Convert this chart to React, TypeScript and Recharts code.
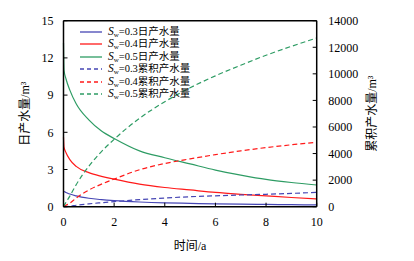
import React from 'react';
import { ComposedChart, Line, XAxis, YAxis, Legend, ReferenceLine } from 'recharts';

const times = [0, 0.02, 0.1, 0.25, 0.5, 1, 1.5, 2, 3, 4, 5, 6, 7, 8, 9, 10];
const daily03 = [1.25, 1.22, 1.15, 1.02, 0.87, 0.68, 0.57, 0.49, 0.38, 0.31, 0.27, 0.23, 0.2, 0.18, 0.16, 0.14];
const daily04 = [5.6, 4.8, 4.35, 3.8, 3.25, 2.75, 2.45, 2.22, 1.82, 1.55, 1.35, 1.15, 1.0, 0.87, 0.74, 0.62];
const daily05 = [13.2, 11.0, 10.3, 9.4, 8.3, 7.0, 6.1, 5.5, 4.5, 3.95, 3.45, 2.95, 2.55, 2.2, 1.95, 1.75];
const cum03 = [0, 0, 10, 35, 110, 215, 300, 380, 530, 650, 750, 820, 880, 935, 1000, 1080];
const cum04 = [0, 20, 110, 260, 650, 1250, 1700, 2080, 2780, 3250, 3600, 3920, 4200, 4450, 4660, 4850];
const cum05 = [0, 70, 330, 800, 1650, 3050, 4150, 5070, 6650, 7900, 8950, 9850, 10650, 11400, 12070, 12700];

const xTicks = [0, 2, 4, 6, 8, 10];
const leftTicks = [0, 3, 6, 9, 12, 15];
const rightTicks = [0, 2000, 4000, 6000, 8000, 10000, 12000, 14000];

const BLUE = '#4646b4';
const RED = '#ff1a1a';
const GREEN = '#2e9c64';

const data = times.map((t, i) => ({
  t,
  d03: daily03[i],
  d04: daily04[i],
  d05: daily05[i],
  c03: cum03[i],
  c04: cum04[i],
  c05: cum05[i],
}));

const legendItems = [
  { sw: '0.3', kind: '日产水量', color: BLUE, dashed: false },
  { sw: '0.4', kind: '日产水量', color: RED, dashed: false },
  { sw: '0.5', kind: '日产水量', color: GREEN, dashed: false },
  { sw: '0.3', kind: '累积产水量', color: BLUE, dashed: true },
  { sw: '0.4', kind: '累积产水量', color: RED, dashed: true },
  { sw: '0.5', kind: '累积产水量', color: GREEN, dashed: true },
];

const FONT = "'Liberation Serif', 'Times New Roman', 'Noto Sans CJK SC', serif";
const tickStyle = { fill: '#000', fontSize: 12, fontFamily: FONT };

const renderLegend = () => (
  <div style={{ fontFamily: FONT, fontSize: 10.5, color: '#000' }}>
    {legendItems.map((it, i) => (
      <div key={i} style={{ height: 12.5, display: 'flex', alignItems: 'center', whiteSpace: 'nowrap' }}>
        <svg width={22} height={4} style={{ marginRight: 6 }}>
          <line x1={0} y1={2} x2={22} y2={2} stroke={it.color} strokeWidth={1.3} strokeDasharray={it.dashed ? '4 3' : undefined} />
        </svg>
        <span style={{ lineHeight: '12px' }}>
          <span style={{ fontStyle: 'italic', fontSize: 11.5 }}>S</span>
          <span style={{ fontSize: 7, position: 'relative', top: 2 }}>w</span>
          <span>={it.sw}{it.kind}</span>
        </span>
      </div>
    ))}
  </div>
);

export default function App() {
  return (
    <ComposedChart width={406} height={253} data={data} margin={{ top: 12.7, right: 0, bottom: 0, left: 0 }}>
      <XAxis
        dataKey="t"
        type="number"
        domain={[0, 10]}
        ticks={xTicks}
        interval={0}
        height={54.3}
        tickSize={-4}
        tickMargin={14.5}
        axisLine={{ stroke: '#000', strokeWidth: 1.5 }}
        tickLine={{ stroke: '#000' }}
        tick={tickStyle}
        label={{ value: '时间/a', position: 'insideBottom', offset: 11, style: { fill: '#000', fontSize: 12, fontFamily: FONT } }}
      />
      <YAxis
        yAxisId="left"
        domain={[0, 15]}
        ticks={leftTicks}
        interval={0}
        width={55.5}
        tickSize={-4}
        tickMargin={14}
        axisLine={{ stroke: '#000', strokeWidth: 1.5 }}
        tickLine={{ stroke: '#000' }}
        tick={tickStyle}
        label={{ value: '日产水量/m³', angle: -90, position: 'insideLeft', offset: 17, style: { textAnchor: 'middle', fill: '#000', fontSize: 12, fontFamily: FONT } }}
      />
      <YAxis
        yAxisId="right"
        orientation="right"
        domain={[0, 14000]}
        ticks={rightTicks}
        interval={0}
        width={97.3}
        tickSize={-4}
        tickMargin={15.5}
        axisLine={{ stroke: '#000', strokeWidth: 1.5 }}
        tickLine={{ stroke: '#000' }}
        tick={tickStyle}
        label={{ value: '累积产水量/m³', angle: -90, position: 'insideRight', offset: 42.3, style: { textAnchor: 'middle', fill: '#000', fontSize: 12, fontFamily: FONT } }}
      />
      <ReferenceLine yAxisId="left" y={15} stroke="#000" strokeWidth={1.5} />
      <Legend
        layout="vertical"
        align="center"
        verticalAlign="middle"
        content={renderLegend}
        wrapperStyle={{ left: 72, top: 17.4, width: 200, height: 80 }}
      />
      <Line yAxisId="left" type="monotone" dataKey="d03" stroke={BLUE} strokeWidth={1.2} dot={false} isAnimationActive={false} />
      <Line yAxisId="left" type="monotone" dataKey="d04" stroke={RED} strokeWidth={1.2} dot={false} isAnimationActive={false} />
      <Line yAxisId="left" type="monotone" dataKey="d05" stroke={GREEN} strokeWidth={1.2} dot={false} isAnimationActive={false} />
      <Line yAxisId="right" type="monotone" dataKey="c03" stroke={BLUE} strokeWidth={1.2} strokeDasharray="5 3" dot={false} isAnimationActive={false} />
      <Line yAxisId="right" type="monotone" dataKey="c04" stroke={RED} strokeWidth={1.2} strokeDasharray="5 3" dot={false} isAnimationActive={false} />
      <Line yAxisId="right" type="monotone" dataKey="c05" stroke={GREEN} strokeWidth={1.2} strokeDasharray="5 3" dot={false} isAnimationActive={false} />
    </ComposedChart>
  );
}
